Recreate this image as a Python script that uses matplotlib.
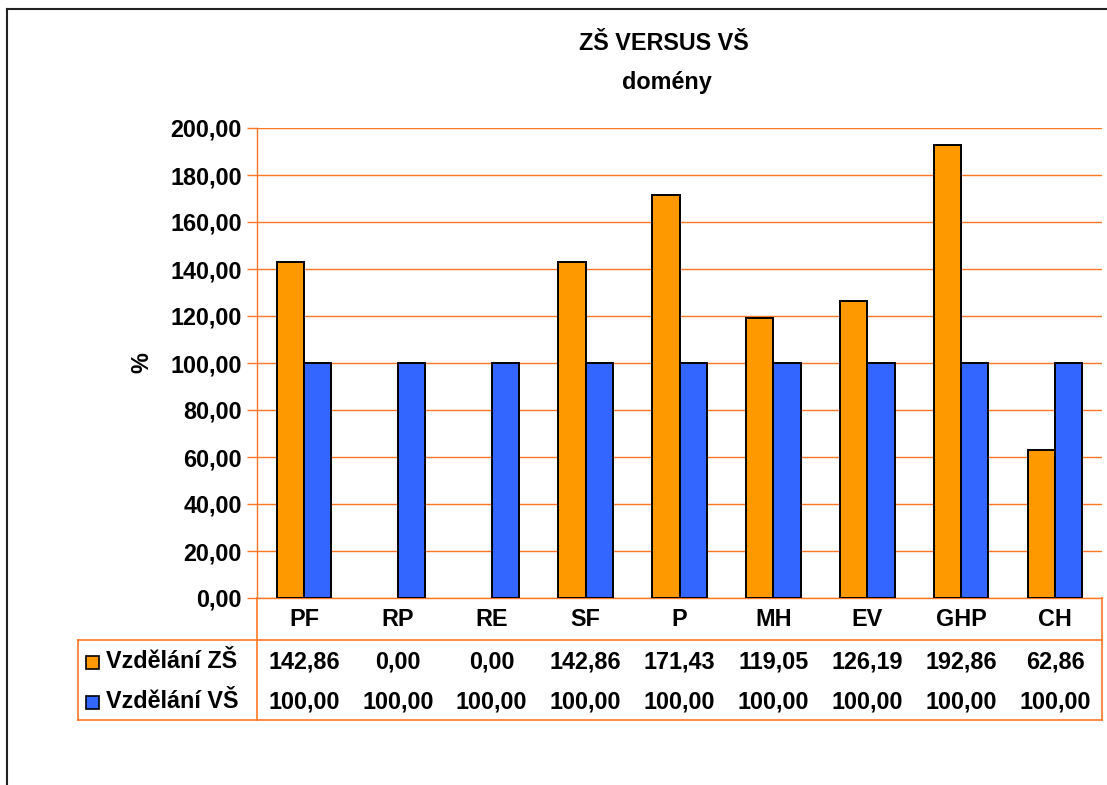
import matplotlib
matplotlib.use("Agg")
import matplotlib.pyplot as plt
from matplotlib.transforms import blended_transform_factory
from matplotlib.patches import Rectangle
from matplotlib.lines import Line2D
import numpy as np

categories = ["PF", "RP", "RE", "SF", "P", "MH", "EV", "GHP", "CH"]
series_names = ["Vzdělání ZŠ", "Vzdělání VŠ"]
zs_values = [142.86, 0.00, 0.00, 142.86, 171.43, 119.05, 126.19, 192.86, 62.86]
vs_values = [100.00, 100.00, 100.00, 100.00, 100.00, 100.00, 100.00, 100.00, 100.00]
yticks = [0, 20, 40, 60, 80, 100, 120, 140, 160, 180, 200]
title_lines = ["ZŠ VERSUS VŠ", "domény"]
ylabel = "%"

ORANGE = "#FF9900"
BLUE = "#3366FF"
GRID = "#FF7722"
FONT = "Liberation Sans"
FS = 16.8

W, H = 1107, 785
fig = plt.figure(figsize=(W / 100, H / 100), dpi=100)
plt.rcParams['font.family'] = [FONT, 'DejaVu Sans']

def fx(px):
    return px / W

def fy(py):
    return 1 - py / H

# outer border (top and left)
fig.add_artist(Line2D([fx(7), fx(7)], [fy(9), 0], transform=fig.transFigure, color="#222222", lw=1.5))
fig.add_artist(Line2D([fx(7), 1], [fy(9), fy(9)], transform=fig.transFigure, color="#222222", lw=1.5))

left, right, top, bottom = 257, 1102, 128, 598
ax = fig.add_axes([fx(left), fy(bottom), fx(right) - fx(left), fy(top) - fy(bottom)])

x = np.arange(len(categories))
bw = 0.29
b1 = ax.bar(x - bw / 2, zs_values, bw, color=ORANGE, edgecolor="black", linewidth=1.4, zorder=3)
b2 = ax.bar(x + bw / 2, vs_values, bw, color=BLUE, edgecolor="black", linewidth=1.4, zorder=3)
for bars, vals in [(b1, zs_values), (b2, vs_values)]:
    for rect, v in zip(bars, vals):
        if v == 0:
            rect.set_visible(False)

ax.set_xlim(-0.5, len(categories) - 0.5)
ax.set_ylim(0, 200)
ax.set_yticks(yticks)
ax.set_yticklabels([f"{v:.2f}".replace(".", ",") for v in yticks], fontsize=FS, fontweight="bold")
ax.set_xticks([])
ax.yaxis.grid(True, color=GRID, linewidth=1.0, zorder=0)
ax.tick_params(axis="y", length=7, color=GRID, width=1.0, pad=4)
for s in ["top", "right"]:
    ax.spines[s].set_visible(False)
ax.spines["left"].set_color(GRID)
ax.spines["bottom"].set_color(GRID)
ax.spines["left"].set_linewidth(1.0)
ax.spines["bottom"].set_linewidth(1.0)

ax.set_ylabel(ylabel, fontsize=FS, fontweight="bold", labelpad=12)

fig.text(fx(664), fy(44), title_lines[0], ha="center", va="center", fontsize=FS, fontweight="bold")
fig.text(fx(667), fy(82), title_lines[1], ha="center", va="center", fontsize=FS, fontweight="bold")

# data table
trans = blended_transform_factory(ax.transData, fig.transFigure)
row_cat, row1, row2 = 619, 662, 702
for i, c in enumerate(categories):
    ax.text(i, fy(row_cat), c, transform=trans, ha="center", va="center", fontsize=FS, fontweight="bold", clip_on=False)
    ax.text(i, fy(row1), f"{zs_values[i]:.2f}".replace(".", ","), transform=trans, ha="center", va="center",
            fontsize=FS, fontweight="bold", clip_on=False)
    ax.text(i, fy(row2), f"{vs_values[i]:.2f}".replace(".", ","), transform=trans, ha="center", va="center",
            fontsize=FS, fontweight="bold", clip_on=False)

tl = dict(transform=fig.transFigure, color=GRID, lw=1.2)
fig.add_artist(Line2D([fx(78), fx(right)], [fy(640), fy(640)], **tl))
fig.add_artist(Line2D([fx(78), fx(right)], [fy(720), fy(720)], **tl))
fig.add_artist(Line2D([fx(78), fx(78)], [fy(640), fy(720)], **tl))
fig.add_artist(Line2D([fx(left), fx(left)], [fy(bottom), fy(720)], **tl))
fig.add_artist(Line2D([fx(right), fx(right)], [fy(bottom), fy(720)], **tl))

for (name, col, ry) in [(series_names[0], ORANGE, row1), (series_names[1], BLUE, row2)]:
    fig.add_artist(Rectangle((fx(86), fy(ry + 7)), fx(13), 13 / H, transform=fig.transFigure,
                             facecolor=col, edgecolor="black", lw=1.2))
    fig.text(fx(106), fy(ry), name, ha="left", va="center", fontsize=FS, fontweight="bold")

fig.savefig("out.png", dpi=100)
